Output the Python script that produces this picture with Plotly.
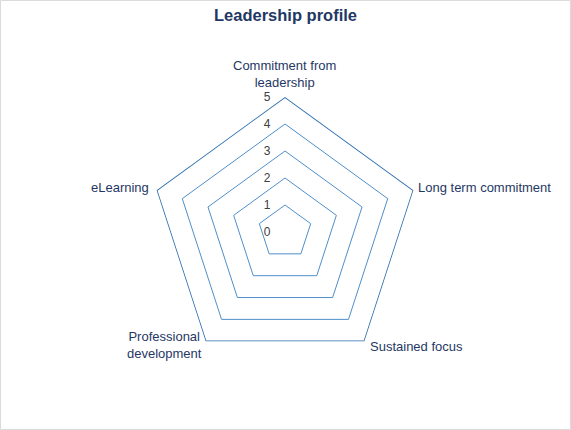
import plotly.graph_objects as go

# radar: categories clockwise starting at top
cats = ['Commitment from<br>leadership', 'Long term commitment', 'Sustained focus',
        'Professional<br>development', 'eLearning']
vals = [5, 5, 5, 5, 5]
tickV = [0, 1, 2, 3, 4, 5]

navy = '#1f3864'; gridC = '#4f8fca'; lineC = '#2a6cad'

# category label placement (paper coords), same order as cats
labX = [0.4991, 0.7285, 0.6445, 0.288, 0.2644]
labY = [0.829, 0.565, 0.1953, 0.1988, 0.5628]
labAnchor = ['center', 'left', 'left', 'center', 'right']

fig = go.Figure()
fig.add_trace(go.Scatterpolar(r=vals + vals[:1], theta=cats + cats[:1], mode='lines',
                              line=dict(color=lineC, width=1.6), showlegend=False, hoverinfo='skip'))

for t, x, y, a in zip(cats, labX, labY, labAnchor):
    fig.add_annotation(text=t, x=x, y=y, xref='paper', yref='paper', xanchor=a, yanchor='middle',
                       align='center', showarrow=False, font=dict(size=13, color=navy))

fig.update_layout(
    width=571, height=430, margin=dict(l=0, r=0, t=0, b=0),
    paper_bgcolor='white', plot_bgcolor='white',
    font=dict(family='Liberation Sans', size=13, color=navy),
    title=dict(text='<b>Leadership profile</b>', x=0.5, xanchor='center', y=0.965, yanchor='middle',
               yref='container', font=dict(size=16.5, color=navy)),
    polar=dict(
        domain=dict(x=[0.2627, 0.7356], y=[0.1465, 0.7744]),
        gridshape='linear', bgcolor='white',
        angularaxis=dict(rotation=90, direction='clockwise', showgrid=False, showline=False,
                         ticks='', showticklabels=False),
        radialaxis=dict(range=[0, 5], tickvals=tickV, angle=90, side='counterclockwise',
                        showline=False, ticks='outside', ticklen=10, tickcolor='rgba(0,0,0,0)',
                        gridcolor=gridC, gridwidth=1,
                        tickfont=dict(size=12, color='#404040'), tickangle=90),
    ),
    shapes=[dict(type='rect', xref='paper', yref='paper', x0=0.001, x1=0.999, y0=0.001, y1=0.999,
                 line=dict(color='#d9d9d9', width=1))],
)

fig.write_html('out.html', config=dict(displayModeBar=False),
               post_script="document.body.style.margin='0px';")
